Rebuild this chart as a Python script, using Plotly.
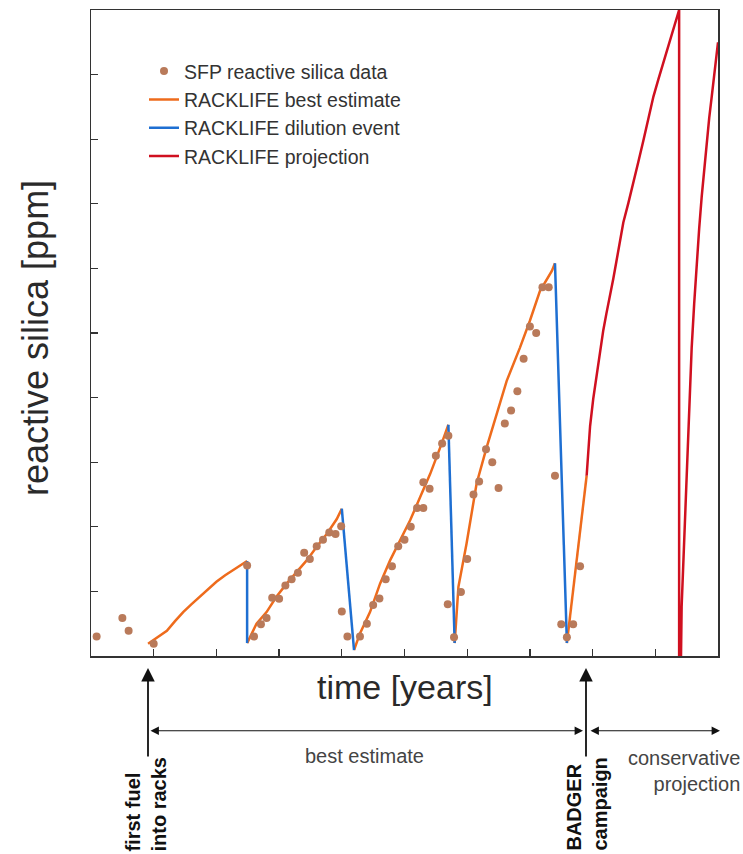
import plotly.graph_objects as go

# ---------------- data (years, ppm in arbitrary axis units) ----------------
data_x = [0.09, 0.50, 0.60, 1.00,
          2.49, 2.60, 2.71, 2.80, 2.89, 3.00, 3.10, 3.20, 3.30, 3.40, 3.49, 3.60, 3.70, 3.80, 3.90, 3.99, 4.00, 4.09, 4.29, 4.40,
          4.50, 4.60, 4.70, 4.80, 4.90, 5.00, 5.10, 5.20, 5.30, 5.30, 5.40, 5.50, 5.60, 5.70, 5.69, 5.79,
          5.90, 6.00, 6.10, 6.19, 6.30, 6.40, 6.50, 6.60, 6.70, 6.80, 6.90, 7.00, 7.10, 7.20, 7.30, 7.40, 7.50, 7.59, 7.69, 7.80]
data_y = [0.30, 0.59, 0.39, 0.19,
          1.40, 0.30, 0.49, 0.59, 0.90, 0.885, 1.09, 1.19, 1.29, 1.60, 1.50, 1.70, 1.80, 1.91, 1.89, 2.01, 0.69, 0.30, 0.30, 0.50,
          0.79, 0.89, 1.19, 1.39, 1.70, 1.80, 2.00, 2.29, 2.29, 2.69, 2.59, 3.10, 3.29, 3.41, 0.80, 0.29,
          0.99, 1.50, 2.50, 2.70, 3.20, 3.00, 2.60, 3.60, 3.80, 4.10, 4.60, 5.10, 5.00, 5.71, 5.71, 2.79, 0.49, 0.29, 0.49, 1.39]

best_x = [0.91, 1.05, 1.21, 1.34, 1.47, 1.60, 1.74, 1.87, 2.00, 2.14, 2.27, 2.38, 2.49, None,
          2.49, 2.64, 2.80, 2.96, 3.12, 3.28, 3.44, 3.60, 3.76, 3.92, 4.00, None,
          4.195, 4.29, 4.45, 4.61, 4.77, 4.93, 5.09, 5.25, 5.41, 5.57, 5.70, None,
          5.80, 5.86, 5.99, 6.15, 6.31, 6.47, 6.63, 6.84, 7.00, 7.16, 7.35, 7.40, None,
          7.59, 7.905]
best_y = [0.19, 0.29, 0.39, 0.54, 0.68, 0.80, 0.92, 1.04, 1.15, 1.25, 1.33, 1.40, 1.47, None,
          0.20, 0.50, 0.68, 0.92, 1.12, 1.30, 1.48, 1.69, 1.89, 2.12, 2.28, None,
          0.09, 0.35, 0.68, 1.12, 1.48, 1.79, 2.10, 2.46, 2.82, 3.23, 3.58, None,
          0.20, 1.07, 1.74, 2.67, 3.23, 3.75, 4.26, 4.77, 5.19, 5.65, 5.96, 6.08, None,
          0.20, 2.79]

dilution_x = [2.49, 2.49, None, 4.00, 4.195, None, 5.70, 5.80, None, 7.40, 7.59]
dilution_y = [1.47, 0.20, None, 2.28, 0.09, None, 3.58, 0.20, None, 6.08, 0.20]

projection_x = [7.905, 7.93, 7.96, 8.01, 8.065, 8.12, 8.17, 8.22, 8.28, 8.33, 8.38, 8.43, 8.49, 8.57, 8.65,
                8.73, 8.81, 8.89, 8.97, 9.05, 9.13, 9.23, 9.31, 9.38,
                9.38, 9.41, 9.42, 9.445, 9.47, 9.50, 9.53, 9.555, 9.58, 9.62, 9.66, 9.70, 9.74, 9.78, 9.82,
                9.86, 9.90, 9.95, 10.0]
projection_y = [2.79, 3.20, 3.56, 3.98, 4.37, 4.72, 5.04, 5.30, 5.57, 5.84, 6.11, 6.41, 6.71, 7.01, 7.31,
                7.65, 7.98, 8.32, 8.66, 8.93, 9.18, 9.52, 9.76, 10.0,
                0.0, 0.0, 0.76, 1.43, 2.09, 2.76, 3.43, 4.10, 4.77, 5.45, 6.11, 6.62, 7.11, 7.56, 7.98,
                8.33, 8.66, 9.05, 9.50]

tick_vals = [1, 2, 3, 4, 5, 6, 7, 8, 9]

# ---------------- styling ----------------
FONT = "Liberation Sans, Arial, sans-serif"
ORANGE = "#ee6b1c"
BLUE = "#1e6fd2"
RED = "#d01020"
BROWN = "#b97a5a"
TXT = "#2a2a2a"

fig = go.Figure()
fig.add_trace(go.Scatter(x=best_x, y=best_y, mode="lines", name="RACKLIFE best estimate",
                         line=dict(color=ORANGE, width=2.5), legendrank=2))
fig.add_trace(go.Scatter(x=dilution_x, y=dilution_y, mode="lines", name="RACKLIFE dilution event",
                         line=dict(color=BLUE, width=2.5), legendrank=3))
fig.add_trace(go.Scatter(x=projection_x, y=projection_y, mode="lines", name="RACKLIFE projection",
                         line=dict(color=RED, width=2.5), legendrank=4))
fig.add_trace(go.Scatter(x=data_x, y=data_y, mode="markers", name="SFP reactive silica data",
                         marker=dict(color=BROWN, size=8, symbol="circle"), legendrank=1,
                         cliponaxis=False))

axis_common = dict(range=[0, 10], tickvals=tick_vals, ticks="inside", ticklen=7, tickwidth=1.3,
                   tickcolor="#333", showticklabels=False, showgrid=False, zeroline=False,
                   showline=True, linecolor="#333", linewidth=1.5, mirror=True, fixedrange=True)
fig.update_xaxes(**axis_common)
fig.update_yaxes(**axis_common)

def px_x(p):
    return (p - 91) / 627.0

def px_y(p):
    return (656 - p) / 648.0

ann = []
ann.append(dict(text="time [years]", x=0.5, y=px_y(687), xref="paper", yref="paper",
                showarrow=False, xanchor="center", yanchor="middle",
                font=dict(family=FONT, size=34, color=TXT)))
ann.append(dict(text="reactive silica [ppm]", x=px_x(36), y=px_y(337), xref="paper", yref="paper",
                showarrow=False, textangle=-90, xanchor="center", yanchor="middle",
                font=dict(family=FONT, size=36, color=TXT)))
ann.append(dict(text="best estimate", x=px_x(364), y=px_y(756), xref="paper", yref="paper",
                showarrow=False, xanchor="center", yanchor="middle",
                font=dict(family=FONT, size=20, color="#444")))
ann.append(dict(text="conservative<br>projection", x=px_x(742), y=px_y(745), xref="paper", yref="paper",
                showarrow=False, xanchor="right", yanchor="top", align="right",
                font=dict(family=FONT, size=20, color="#444")))
ann.append(dict(text="<b>first fuel<br>into racks</b>", x=px_x(146), y=px_y(805), xref="paper", yref="paper",
                showarrow=False, textangle=-90, xanchor="center", yanchor="middle", align="left",
                font=dict(family=FONT, size=20, color="#111")))
ann.append(dict(text="<b>BADGER<br>campaign</b>", x=px_x(587), y=px_y(805), xref="paper", yref="paper",
                showarrow=False, textangle=-90, xanchor="center", yanchor="middle", align="left",
                font=dict(family=FONT, size=20, color="#111")))
# vertical arrows
for xp in (148, 586):
    ann.append(dict(text="", x=px_x(xp), y=px_y(668), xref="paper", yref="paper",
                    showarrow=True, ax=0, ay=90, axref="pixel", ayref="pixel",
                    arrowhead=2, arrowsize=1.5, arrowwidth=1.8, arrowcolor="#111"))
# horizontal double arrows
ann.append(dict(text="", x=px_x(583), y=px_y(731), xref="paper", yref="paper",
                showarrow=True, ax=-434, ay=0, axref="pixel", ayref="pixel", arrowside="end+start",
                arrowhead=2, arrowsize=1.4, arrowwidth=1.2, arrowcolor="#111"))
ann.append(dict(text="", x=px_x(720), y=px_y(731), xref="paper", yref="paper",
                showarrow=True, ax=-131, ay=0, axref="pixel", ayref="pixel", arrowside="end+start",
                arrowhead=2, arrowsize=1.4, arrowwidth=1.2, arrowcolor="#111"))

fig.update_layout(
    width=743, height=854, autosize=False,
    margin=dict(l=91, r=25, t=8, b=198, pad=0),
    paper_bgcolor="white", plot_bgcolor="white",
    font=dict(family=FONT, color=TXT),
    legend=dict(x=px_x(144), y=px_y(50), xanchor="left", yanchor="top",
                bgcolor="rgba(0,0,0,0)", font=dict(family=FONT, size=19.5, color="#333"),
                itemwidth=30, tracegroupgap=0),
    annotations=ann,
    showlegend=True,
)

fig.write_html("out.html", include_plotlyjs=True, full_html=True,
               config={"displayModeBar": False, "staticPlot": True},
               post_script="document.body.style.margin='0px';")
